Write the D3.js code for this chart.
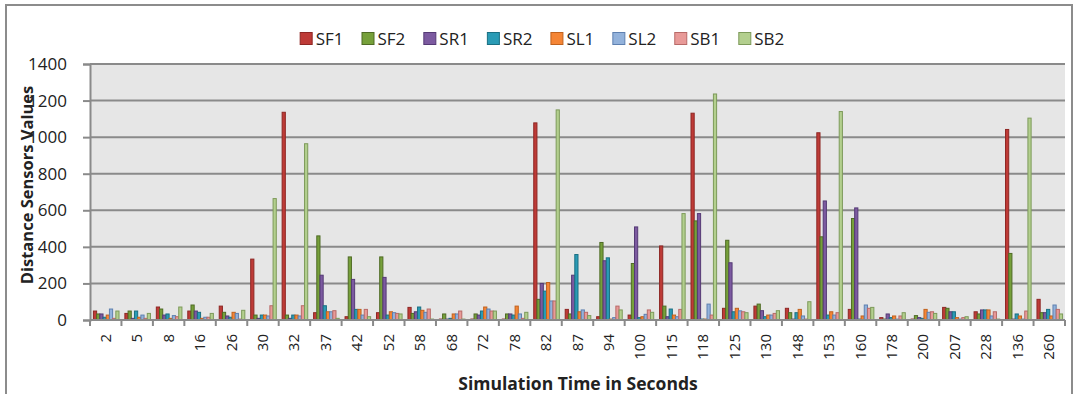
<!DOCTYPE html>
<html>
<head>
<meta charset="utf-8">
<script src="https://cdn.jsdelivr.net/npm/d3@7"></script>
<style>
  body { margin: 0; background: #fff; }
  text { font-family: "Open Sans", sans-serif; fill: #222; }
</style>
</head>
<body>
<div id="chart"></div>
<script>
var svgWidth = 1078;
var svgHeight = 394;

// x categories (simulation time, in the order shown)
var categories = ["2","5","8","16","26","30","32","37","42","52","58","68","72","78","82",
  "87","94","100","115","118","125","130","148","153","160","178","200","207","228","136","260"];

var seriesNames = ["SF1","SF2","SR1","SR2","SL1","SL2","SB1","SB2"];

// values
var sf1 = [49,36,71,49,76,333,1136,40,18,40,69,5,5,5,1078,58,18,27,405,1131,64,76,64,1024,58,13,5,69,45,1042,113];
var sf2 = [33,49,60,82,42,27,27,460,345,345,36,33,33,33,113,33,424,309,76,542,436,87,40,455,555,5,24,64,33,364,40];
var sr1 = [33,9,27,49,22,9,9,245,222,233,45,5,27,33,200,245,324,509,18,582,313,51,5,651,613,33,13,45,55,5,40];
var sr2 = [15,49,33,42,15,27,27,78,58,27,71,9,49,27,158,358,340,13,60,5,45,18,40,27,5,13,9,45,55,33,58];
var sl1 = [27,15,9,9,42,27,27,45,58,45,53,33,71,76,205,45,5,18,27,5,64,27,58,45,22,22,58,13,55,22,22];
var sl2 = [60,27,24,15,36,22,22,45,27,40,42,33,60,33,104,55,13,31,18,87,50,27,22,27,82,5,42,5,22,5,82];
var sb1 = [9,9,18,15,5,78,78,51,58,36,60,49,49,9,104,42,76,55,58,27,45,36,5,40,64,22,45,13,45,49,58];
var sb2 = [49,36,71,36,53,664,964,9,18,33,5,5,49,42,1149,24,55,42,582,1236,40,51,100,1140,69,40,36,18,5,1104,33];

var yTicks = [0,200,400,600,800,1000,1200,1400];

var allSeries = [sf1, sf2, sr1, sr2, sl1, sl2, sb1, sb2];
var fills = ["#be3b37","#76a03a","#7c5aa0","#2a9bb5","#f58535","#93b2db","#e89a98","#b3cf8e"];
var strokes = ["#8e2724","#4f6b25","#553a75","#1a6f82","#c0621e","#5e80b0","#b86a68","#7d9a5a"];

var plot = { left: 90, right: 1065, top: 64, bottom: 320 };

var svg = d3.select("#chart")
  .append("svg")
  .attr("width", svgWidth)
  .attr("height", svgHeight);

// outer frame
svg.append("rect")
  .attr("x", 6).attr("y", 5)
  .attr("width", 1066).attr("height", 430)
  .attr("fill", "#fff")
  .attr("stroke", "#8c8c8c")
  .attr("stroke-width", 2);

// plot background
svg.append("rect")
  .attr("x", plot.left).attr("y", plot.top)
  .attr("width", plot.right - plot.left)
  .attr("height", plot.bottom - plot.top)
  .attr("fill", "#e6e6e6");

var x0 = d3.scaleBand()
  .domain(categories)
  .range([plot.left, plot.right])
  .paddingInner(0.186)
  .paddingOuter(0.093);

var x1 = d3.scaleBand()
  .domain(seriesNames)
  .range([0, x0.bandwidth()])
  .padding(0);

var yScale = d3.scaleLinear()
  .domain([0, 1400])
  .range([plot.bottom, plot.top]);

// gridlines
svg.append("g")
  .selectAll("line")
  .data(yTicks.filter(d => d > 0))
  .enter().append("line")
  .attr("x1", plot.left).attr("x2", plot.right)
  .attr("y1", d => yScale(d)).attr("y2", d => yScale(d))
  .attr("stroke", "#8a8a8a")
  .attr("stroke-width", 2);

// bars
var groups = svg.append("g")
  .selectAll("g")
  .data(categories)
  .enter().append("g")
  .attr("transform", d => "translate(" + x0(d) + ",0)");

groups.selectAll("rect")
  .data((c, i) => seriesNames.map((s, k) => ({ key: s, k: k, value: allSeries[k][i] })))
  .enter().append("rect")
  .attr("x", d => x1(d.key) + 0.5)
  .attr("y", d => yScale(d.value))
  .attr("width", x1.bandwidth())
  .attr("height", d => plot.bottom - yScale(d.value))
  .attr("fill", d => fills[d.k])
  .attr("stroke", d => strokes[d.k])
  .attr("stroke-width", 1);

// y axis
var yAxis = d3.axisLeft(yScale)
  .tickValues(yTicks)
  .tickFormat(d3.format("d"))
  .tickSize(7)
  .tickPadding(16);

var yG = svg.append("g")
  .attr("transform", "translate(" + plot.left + ",0)")
  .call(yAxis);
yG.select(".domain").attr("stroke", "#8a8a8a").attr("stroke-width", 2);
yG.selectAll(".tick line").attr("stroke", "#8a8a8a").attr("stroke-width", 2);
yG.selectAll("text")
  .style("font-family", "'Open Sans', sans-serif")
  .style("font-size", "17px")
  .attr("fill", "#222");

// x axis: ticks between categories
var xG = svg.append("g")
  .attr("transform", "translate(0," + plot.bottom + ")");
xG.append("line")
  .attr("x1", plot.left).attr("x2", plot.right)
  .attr("stroke", "#8a8a8a").attr("stroke-width", 2);
var step = x0.step();
xG.selectAll(".sep")
  .data(d3.range(categories.length + 1))
  .enter().append("line")
  .attr("class", "sep")
  .attr("x1", i => plot.left + i * step)
  .attr("x2", i => plot.left + i * step)
  .attr("y1", 0).attr("y2", 6)
  .attr("stroke", "#8a8a8a").attr("stroke-width", 2);

xG.selectAll(".lbl")
  .data(categories)
  .enter().append("text")
  .attr("class", "lbl")
  .attr("transform", d => "translate(" + (x0(d) + x0.bandwidth() / 2 + 5) + ",14) rotate(-90)")
  .attr("text-anchor", "end")
  .style("font-size", "15px")
  .text(d => d);

// axis titles
svg.append("text")
  .attr("x", 578).attr("y", 390)
  .attr("text-anchor", "middle")
  .style("font-size", "17.5px")
  .style("font-weight", "bold")
  .text("Simulation Time in Seconds");

svg.append("text")
  .attr("transform", "translate(33,185) rotate(-90)")
  .attr("text-anchor", "middle")
  .style("font-size", "16.5px")
  .style("font-weight", "bold")
  .text("Distance Sensors Values");

// legend
var legend = svg.append("g");
var lx = 0;
seriesNames.forEach(function(name, k) {
  var item = legend.append("g").attr("transform", "translate(" + lx + ",0)");
  item.append("rect")
    .attr("x", 0.5).attr("y", -6.5)
    .attr("width", 12).attr("height", 12)
    .attr("fill", fills[k])
    .attr("stroke", strokes[k]);
  var t = item.append("text")
    .attr("x", 16).attr("y", 6)
    .style("font-size", "17px")
    .text(name);
  lx += 16 + t.node().getComputedTextLength() + 18;
});
var legendWidth = lx - 18;
legend.attr("transform", "translate(" + (542 - legendWidth / 2) + ",39)");
</script>
</body>
</html>
